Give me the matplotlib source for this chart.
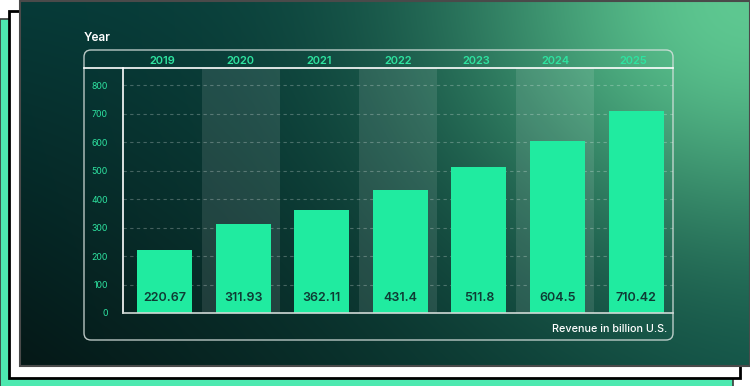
"""
Revenue bar chart on a dark green gradient card.
"""

import numpy as np
import matplotlib
matplotlib.use("Agg")
import matplotlib.pyplot as plt
from matplotlib.patches import Rectangle, FancyBboxPatch

years = ["2019", "2020", "2021", "2022", "2023", "2024", "2025"]
revenue = [220.67, 311.93, 362.11, 431.4, 511.8, 604.5, 710.42]
value_labels = ["220.67", "311.93", "362.11", "431.4", "511.8", "604.5", "710.42"]
y_ticks = [0, 100, 200, 300, 400, 500, 600, 700, 800]

BAR = "#20eba0"
YEAR_GREEN = "#2ee3a0"
TEXT_DARK = "#0f3b34"

W, H = 750, 386

plt.rcParams["font.family"] = ["Inter", "DejaVu Sans"]


def px(x0, y0, x1, y1):
    # pixel box (top-left origin) -> figure fraction rect
    return [x0 / W, 1 - y1 / H, (x1 - x0) / W, (y1 - y0) / H]


def gradient(w, h):
    xs = np.linspace(0, 1, w)
    ys = np.linspace(0, 1, h)
    X, Y = np.meshgrid(xs, ys)
    tl = np.array([6, 58, 56]) / 255
    tr = np.array([10, 64, 58]) / 255
    bl = np.array([5, 24, 23]) / 255
    br = np.array([12, 72, 64]) / 255
    img = (tl * ((1 - X) * (1 - Y))[..., None] + tr * (X * (1 - Y))[..., None]
           + bl * ((1 - X) * Y)[..., None] + br * (X * Y)[..., None])
    # green glow from the top-right corner
    dx = (1 - X) * w / 300.0
    dy = Y * h / 250.0
    g = np.exp(-(dx ** 2 + dy ** 2))[..., None]
    glow = np.array([94, 200, 145]) / 255
    img = img * (1 - g) + glow * g
    return np.clip(img, 0, 1)


def main():
    fig = plt.figure(figsize=(W / 100, H / 100), dpi=100)
    fig.patch.set_facecolor("white")

    bg = fig.add_axes([0, 0, 1, 1])
    bg.set_xlim(0, W)
    bg.set_ylim(H, 0)
    bg.axis("off")

    # stacked cards behind
    bg.add_patch(Rectangle((0, 19), 733, 380, facecolor="#4de9b0",
                           edgecolor="#3a3a3a", lw=1.2))
    bg.add_patch(Rectangle((9, 11), 731, 367, facecolor="white",
                           edgecolor="black", lw=2))

    # dark gradient card
    bg.imshow(gradient(730, 366), extent=(20, 750, 366, 0), aspect="auto",
              interpolation="bilinear", zorder=2)
    bg.add_patch(Rectangle((20, 0.5), 730, 365.5, facecolor="none",
                           edgecolor="#4a4a4a", lw=1.5, zorder=3))

    # inner panel outline and header line
    bg.add_patch(FancyBboxPatch((84, 50), 589, 290,
                                boxstyle="round,pad=0,rounding_size=7",
                                facecolor="none", edgecolor="#d8e2df",
                                lw=1.0, alpha=0.85, zorder=4))
    bg.plot([84, 673], [68, 68], color="white", lw=1.2, zorder=4)

    bg.text(84, 38, "Year", color="white", fontsize=8.5, fontweight="semibold",
            ha="left", va="center", zorder=5)
    bg.text(667, 329, "Revenue in billion U.S.", color="white", fontsize=7.8,
            fontweight="medium", ha="right", va="center", zorder=5)

    # chart axes
    ax = fig.add_axes(px(123, 68, 673, 313))
    ax.patch.set_alpha(0)
    ax.set_zorder(6)
    x = np.arange(len(years))
    ax.set_xlim(-0.5, len(years) - 0.5)
    ax.set_ylim(0, 860)

    for i in range(1, len(years), 2):
        ax.axvspan(i - 0.5, i + 0.5, color="white", alpha=0.1, lw=0, zorder=0)

    for t in y_ticks[1:]:
        ax.axhline(t, color="white", alpha=0.25, lw=0.8,
                   linestyle=(0, (3, 3)), zorder=1)

    ax.bar(x + 0.03, revenue, width=0.7, color=BAR, zorder=2)

    for xi, lab in zip(x, value_labels):
        ax.text(xi + 0.03, 54, lab, ha="center", va="center", color=TEXT_DARK,
                fontsize=9, fontweight="semibold", zorder=3)

    # years in the header row
    for xi, yr in zip(x, years):
        ax.text(xi, 1.0 + 7 / 245, yr, transform=ax.get_xaxis_transform(),
                ha="center", va="center", color=YEAR_GREEN, fontsize=8,
                fontweight="semibold")

    ax.set_xticks([])
    ax.set_yticks(y_ticks)
    ax.set_yticklabels([str(t) for t in y_ticks], color=YEAR_GREEN, fontsize=6.3)
    ax.tick_params(axis="y", length=0, pad=11)

    for side in ["top", "right"]:
        ax.spines[side].set_visible(False)
    ax.spines["left"].set_color("white")
    ax.spines["left"].set_linewidth(1.2)
    ax.spines["bottom"].set_color("#d0d9d6")
    ax.spines["bottom"].set_linewidth(1.2)

    fig.savefig("out.png", dpi=100)


if __name__ == "__main__":
    main()
